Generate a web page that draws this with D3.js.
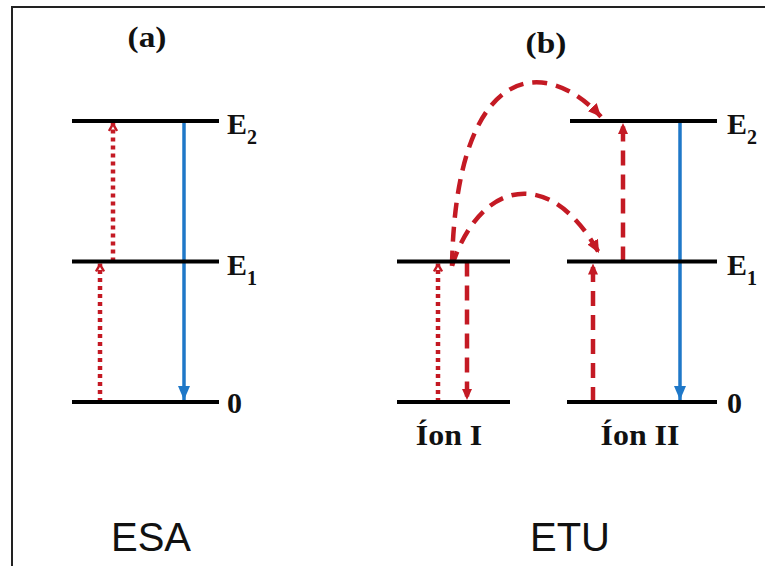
<!DOCTYPE html>
<html>
<head>
<meta charset="utf-8">
<script src="https://cdn.jsdelivr.net/npm/d3@7"></script>
<style>
  body { margin: 0; background: #fff; }
</style>
</head>
<body>
<div class="diagram"></div>
<script>
// energy levels (0 = ground, 1 = E1, 2 = E2)
var levelNames  = ["0", "E1", "E2"];
// level bars: left, right, energy
var levelBars = [
    { x0: 72,  x1: 219, e: 0 }, { x0: 72,  x1: 219, e: 1 }, { x0: 72,  x1: 219, e: 2 },
    { x0: 397, x1: 510, e: 0 }, { x0: 397, x1: 510, e: 1 },
    { x0: 567, x1: 717, e: 0 }, { x0: 567, x1: 717, e: 1 }, { x0: 570, x1: 717, e: 2 }
];
// straight transitions: x, from energy, to energy, kind
var transitions = [
    { x: 100, from: 0, to: 1, kind: "dotted" },
    { x: 113, from: 1, to: 2, kind: "dotted" },
    { x: 184, from: 2, to: 0, kind: "solid" },
    { x: 438, from: 0, to: 1, kind: "dotted" },
    { x: 467, from: 1, to: 0, kind: "dashed" },
    { x: 593, from: 0, to: 1, kind: "dashed" },
    { x: 623, from: 1, to: 2, kind: "dashed" },
    { x: 680, from: 2, to: 0, kind: "solid" }
];
// energy transfer curves (x, energy): start, control, control, end
var transfers = [
    [[452, 0.97], [456, 2.43], [545, 2.47], [601, 2.03]],
    [[452, 0.97], [480, 1.58], [550, 1.69], [599, 1.06]]
];
var panelTitles = ["(a)", "(b)"];
var panelTitleX = [147, 546];
var panelTitleY = [47, 53];
var processNames = ["ESA", "ETU"];
var processX = [151, 570];
var ionNames = ["Íon I", "Íon II"];
var ionX = [449, 640];
var levelLabelX = [227, 727];

var width = 765, height = 566;
var red = "#c41a24", blue = "#1f78c8";

var x = d3.scaleLinear().domain([0, width]).range([0, width]);
var y = d3.scaleLinear().domain([0, 2]).range([402, 121]);

var svg = d3.select(".diagram").append("svg")
    .attr("width", width)
    .attr("height", height);

// frame (cropped figure border)
svg.append("path")
    .attr("d", "M12," + height + "V7H" + width)
    .attr("fill", "none")
    .attr("stroke", "#222")
    .attr("stroke-width", 2);

var defs = svg.append("defs");
function marker(id, color, d, w, h, open) {
    defs.append("marker")
        .attr("id", id)
        .attr("markerUnits", "userSpaceOnUse")
        .attr("viewBox", "0 0 " + w + " " + h)
        .attr("refX", w).attr("refY", h / 2)
        .attr("markerWidth", w).attr("markerHeight", h)
        .attr("orient", "auto")
        .append("path")
        .attr("d", d)
        .attr("fill", open ? "none" : color)
        .attr("stroke", open ? color : "none")
        .attr("stroke-width", open ? 2.5 : 0);
}
marker("blueHead", blue, "M0,0L14,6L0,12Z", 14, 12, false);
marker("redHead", red, "M0,0L11,5L0,10Z", 11, 10, false);
marker("redOpen", red, "M1,1L8,5L1,9", 9, 10, true);
marker("redCurve", red, "M0,0L13,6L0,12Z", 13, 12, false);

// transitions
var styles = {
    dotted: { stroke: red, width: 4.5, dash: "4,4", head: "redOpen" },
    dashed: { stroke: red, width: 4.5, dash: "15,9", head: "redHead" },
    solid:  { stroke: blue, width: 3.5, dash: null, head: "blueHead" }
};
svg.selectAll(".transition")
    .data(transitions)
    .enter()
        .append("line")
        .attr("class", "transition")
        .attr("x1", function (d) { return x(d.x); })
        .attr("x2", function (d) { return x(d.x); })
        .attr("y1", function (d) { return y(d.from); })
        .attr("y2", function (d) { return y(d.to) + (d.to > d.from ? 2 : -2); })
        .attr("stroke", function (d) { return styles[d.kind].stroke; })
        .attr("stroke-width", function (d) { return styles[d.kind].width; })
        .attr("stroke-dasharray", function (d) { return styles[d.kind].dash; })
        .attr("marker-end", function (d) { return "url(#" + styles[d.kind].head + ")"; });

// energy transfer curves
svg.selectAll(".transfer")
    .data(transfers)
    .enter()
        .append("path")
        .attr("class", "transfer")
        .attr("d", function (d) {
            var p = d3.path();
            p.moveTo(x(d[0][0]), y(d[0][1]));
            p.bezierCurveTo(x(d[1][0]), y(d[1][1]), x(d[2][0]), y(d[2][1]), x(d[3][0]), y(d[3][1]));
            return p.toString();
        })
        .attr("fill", "none")
        .attr("stroke", red)
        .attr("stroke-width", 4.5)
        .attr("stroke-dasharray", "15,9")
        .attr("marker-end", "url(#redCurve)");

// level bars
svg.selectAll(".level")
    .data(levelBars)
    .enter()
        .append("line")
        .attr("class", "level")
        .attr("x1", function (d) { return x(d.x0); })
        .attr("x2", function (d) { return x(d.x1); })
        .attr("y1", function (d) { return y(d.e); })
        .attr("y2", function (d) { return y(d.e); })
        .attr("stroke", "#000")
        .attr("stroke-width", 4);

// level labels
var serif = "'Liberation Serif', 'Times New Roman', serif";
levelLabelX.forEach(function (lx) {
    levelNames.forEach(function (name, i) {
        var t = svg.append("text")
            .attr("x", x(lx))
            .attr("y", y(i) + (i === 0 ? 11 : 13))
            .attr("font-family", serif)
            .attr("font-weight", "bold")
            .attr("font-size", 30)
            .attr("fill", "#111");
        t.append("tspan").text(name.charAt(0));
        if (name.length > 1) {
            t.append("tspan")
                .attr("font-size", 20)
                .attr("dy", 10)
                .text(name.slice(1));
        }
    });
});

// panel titles (slightly wide face, as in the figure)
svg.selectAll(".panelTitle")
    .data(panelTitles)
    .enter()
        .append("text")
        .attr("transform", function (d, i) {
            return "translate(" + x(panelTitleX[i]) + "," + panelTitleY[i] + ") scale(1.15,1)";
        })
        .attr("text-anchor", "middle")
        .attr("font-family", serif)
        .attr("font-weight", "bold")
        .attr("font-size", 29)
        .attr("fill", "#111")
        .text(function (d) { return d; });

// ion labels
svg.selectAll(".ion")
    .data(ionNames)
    .enter()
        .append("text")
        .attr("transform", function (d, i) {
            return "translate(" + x(ionX[i]) + ",445) scale(1.1,1)";
        })
        .attr("text-anchor", "middle")
        .attr("font-family", serif)
        .attr("font-weight", "bold")
        .attr("font-size", 29)
        .attr("fill", "#111")
        .text(function (d) { return d; });

// process names
svg.selectAll(".process")
    .data(processNames)
    .enter()
        .append("text")
        .attr("x", function (d, i) { return x(processX[i]); })
        .attr("y", 551)
        .attr("text-anchor", "middle")
        .attr("font-family", "'Liberation Sans', Arial, sans-serif")
        .attr("font-size", 40)
        .attr("fill", "#111")
        .text(function (d) { return d; });
</script>
</body>
</html>
